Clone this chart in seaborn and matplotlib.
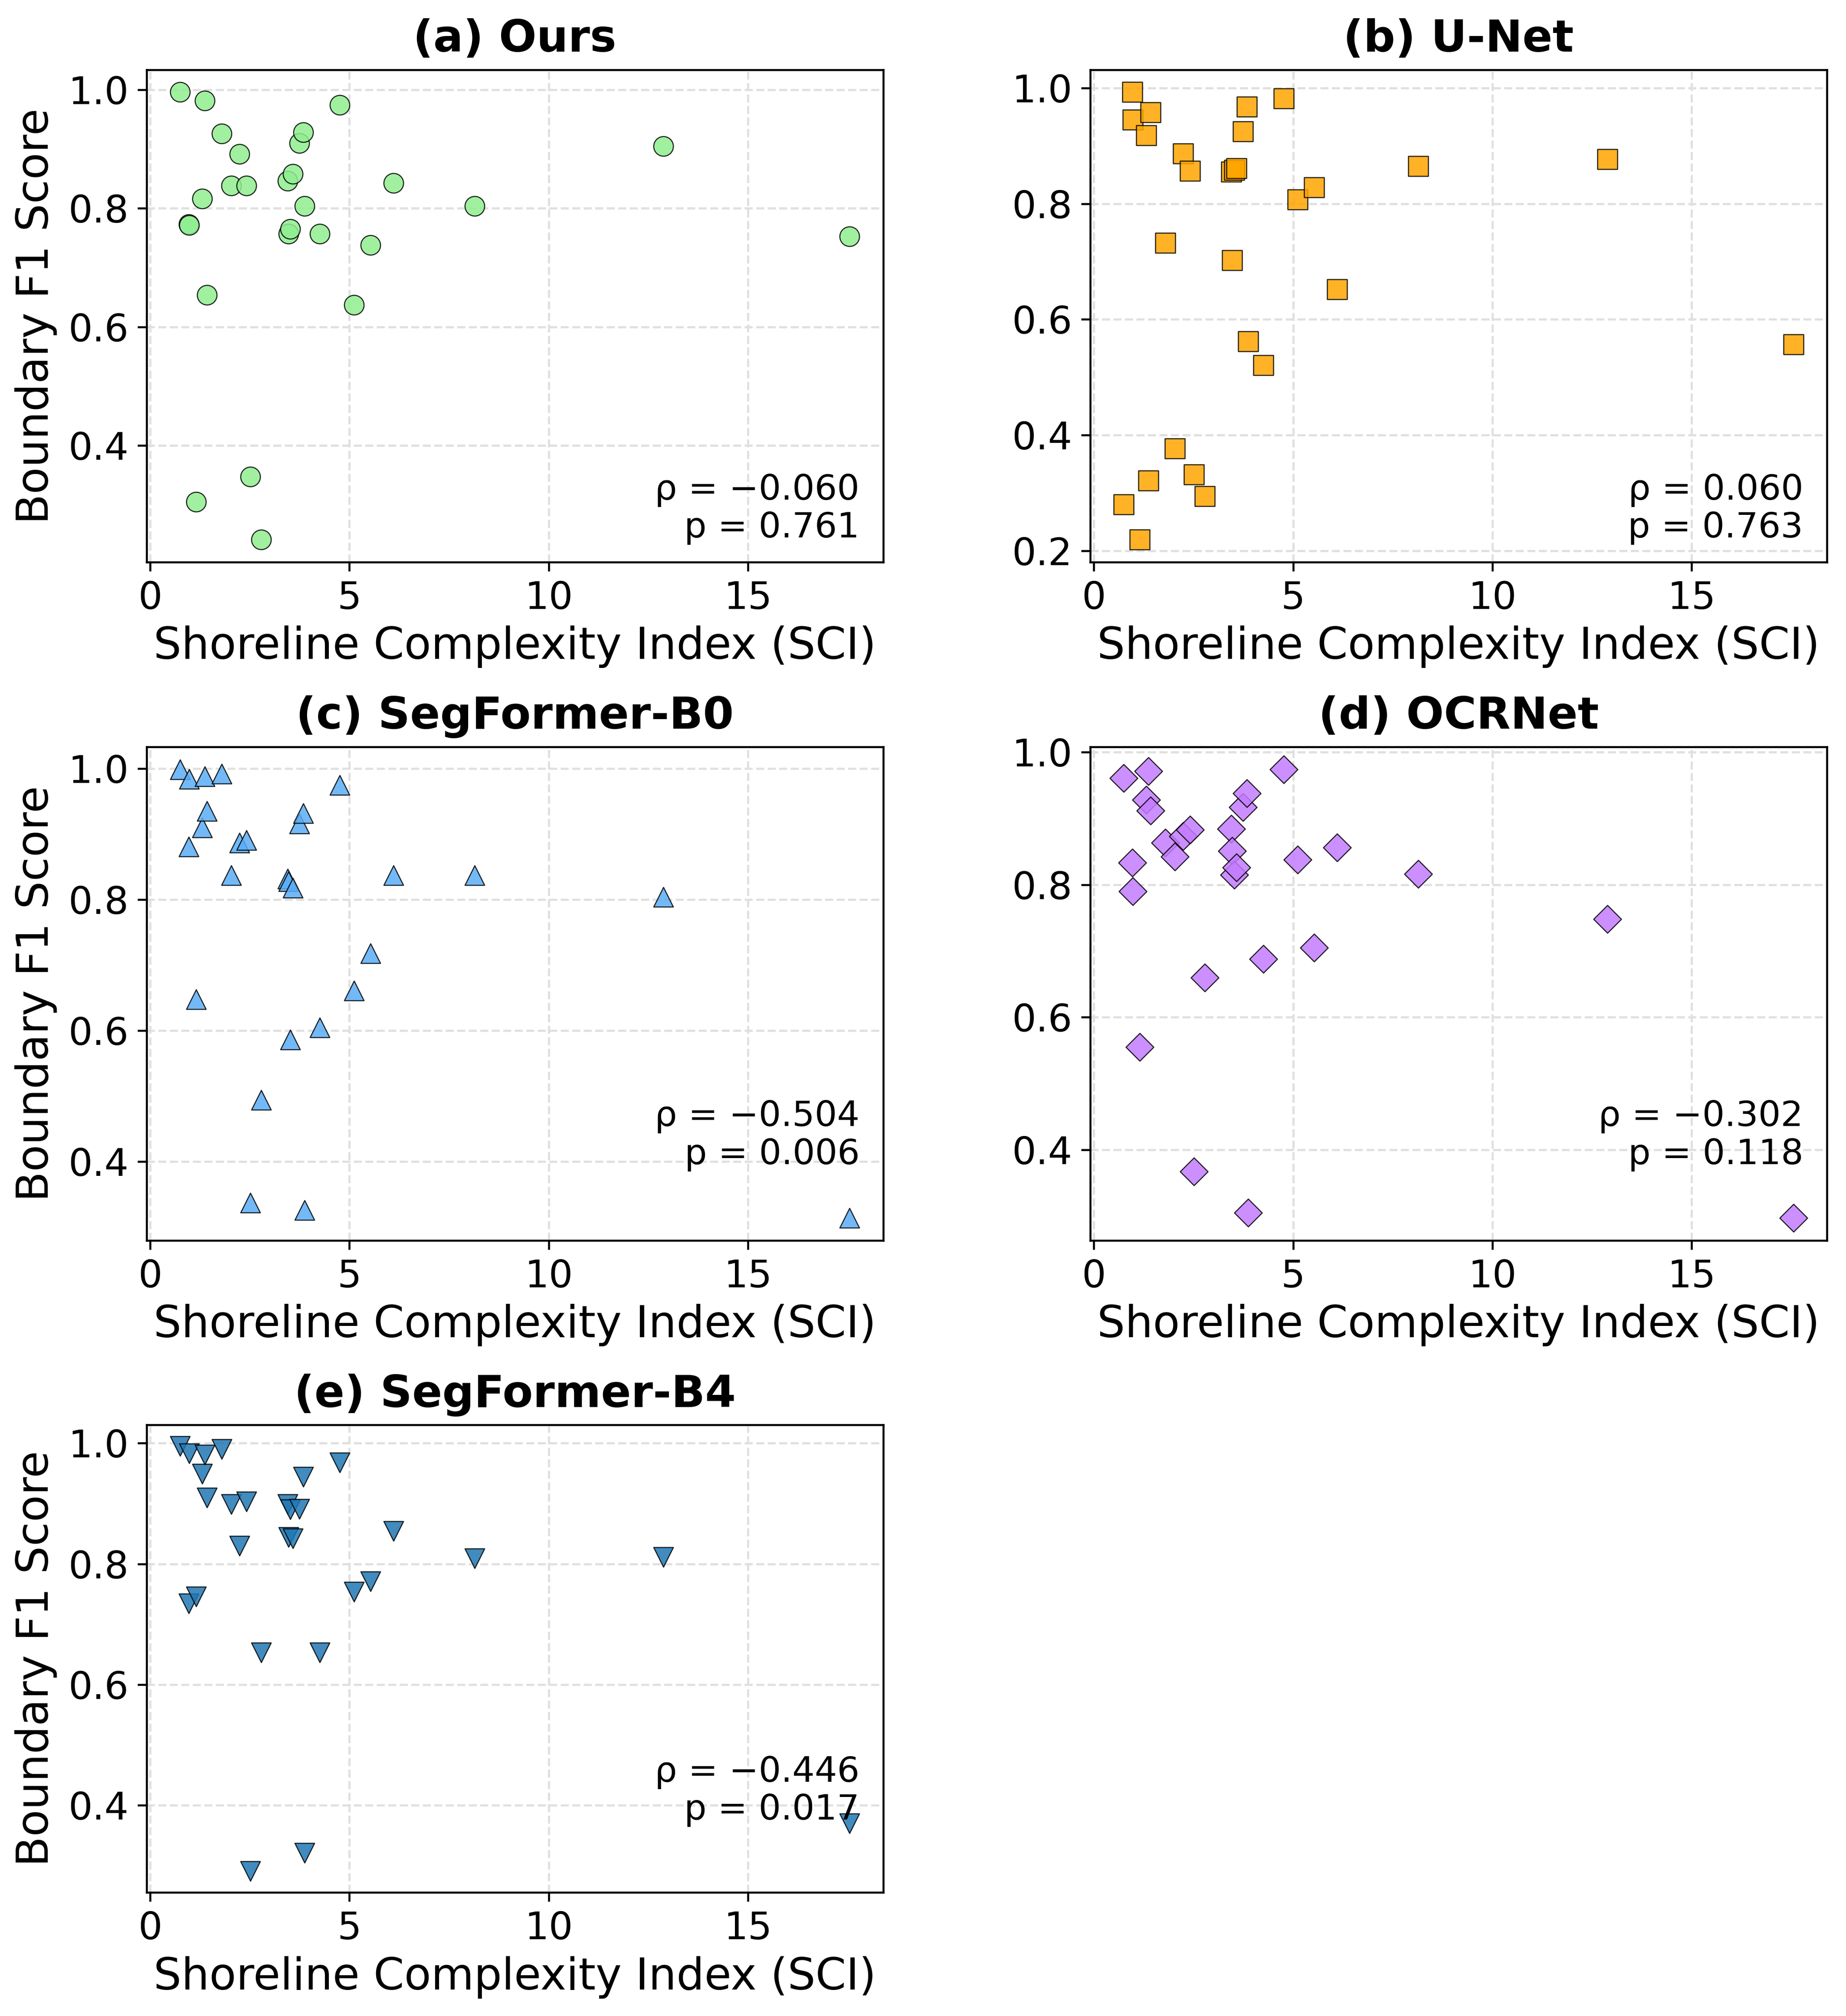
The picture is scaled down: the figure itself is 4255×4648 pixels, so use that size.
import numpy as np
import pandas as pd
import matplotlib
matplotlib.use("Agg")
import matplotlib.pyplot as plt
import seaborn as sns

# Shoreline complexity index of each test scene (shared by all models)
sci = [0.75, 0.97, 0.98, 1.15, 1.31, 1.37, 1.42, 1.79, 2.03, 2.24, 2.41, 2.51, 2.78, 3.45,
       3.47, 3.52, 3.58, 3.74, 3.84, 3.87, 4.25, 4.76, 5.11, 5.53, 6.10, 8.14, 12.88, 17.55]

# Boundary F1 per scene, same order as sci
f1_ours = [0.996, 0.773, 0.772, 0.305, 0.816, 0.982, 0.654, 0.926, 0.838, 0.892, 0.838, 0.347, 0.241, 0.846,
           0.757, 0.765, 0.858, 0.910, 0.928, 0.804, 0.757, 0.974, 0.637, 0.738, 0.843, 0.804, 0.905, 0.753]
f1_unet = [0.280, 0.993, 0.945, 0.219, 0.918, 0.321, 0.958, 0.732, 0.377, 0.887, 0.857, 0.332, 0.294, 0.855,
           0.702, 0.858, 0.861, 0.925, 0.968, 0.562, 0.521, 0.982, 0.807, 0.828, 0.652, 0.865, 0.877, 0.557]
f1_b0 = [0.999, 0.881, 0.984, 0.648, 0.910, 0.988, 0.935, 0.992, 0.837, 0.887, 0.891, 0.337, 0.494, 0.832,
         0.828, 0.586, 0.818, 0.916, 0.932, 0.326, 0.605, 0.975, 0.661, 0.718, 0.837, 0.837, 0.804, 0.314]
f1_ocr = [0.961, 0.833, 0.790, 0.555, 0.928, 0.971, 0.912, 0.863, 0.842, 0.873, 0.883, 0.367, 0.660, 0.884,
          0.851, 0.815, 0.826, 0.917, 0.938, 0.305, 0.688, 0.974, 0.838, 0.705, 0.856, 0.816, 0.748, 0.297]
f1_b4 = [0.995, 0.734, 0.983, 0.746, 0.949, 0.981, 0.910, 0.990, 0.899, 0.830, 0.903, 0.291, 0.653, 0.899,
         0.844, 0.890, 0.842, 0.891, 0.944, 0.321, 0.653, 0.968, 0.754, 0.771, 0.854, 0.809, 0.811, 0.370]

models = ["Ours", "U-Net", "SegFormer-B0", "OCRNet", "SegFormer-B4"]
panel_tags = ["(a)", "(b)", "(c)", "(d)", "(e)"]
spearman_rho = [-0.060, 0.060, -0.504, -0.302, -0.446]
spearman_p = [0.761, 0.763, 0.006, 0.118, 0.017]

f1_all = [f1_ours, f1_unet, f1_b0, f1_ocr, f1_b4]
colors = ["#90EE90", "#FFA500", "#5BADF6", "#C37BFF", "#1F77B4"]
markers = ["o", "s", "^", "D", "v"]

sns.set_theme(style="ticks")
plt.rcParams["font.family"] = ["DejaVu Sans"]
plt.rcParams["text.color"] = "black"
plt.rcParams["axes.labelcolor"] = "black"
plt.rcParams["xtick.color"] = "black"
plt.rcParams["ytick.color"] = "black"

W, H = 4255, 4648
fig = plt.figure(figsize=(W / 300, H / 300), dpi=300)

# axes boxes [left, bottom, width, height] in figure fractions
boxes = [
    [0.0794, 0.7212, 0.3990, 0.2442],
    [0.5906, 0.7212, 0.3990, 0.2442],
    [0.0794, 0.3847, 0.3990, 0.2448],
    [0.5906, 0.3847, 0.3990, 0.2448],
    [0.0794, 0.0613, 0.3990, 0.2319],
]
text_y = [0.035, 0.035, 0.14, 0.14, 0.14]

for i, name in enumerate(models):
    ax = fig.add_axes(boxes[i])
    df = pd.DataFrame({"SCI": sci, "F1": f1_all[i]})
    sns.scatterplot(data=df, x="SCI", y="F1", ax=ax, color=colors[i], marker=markers[i],
                    s=118, alpha=0.85, edgecolor="black", linewidth=0.6, zorder=3)

    ax.set_axisbelow(True)
    ax.grid(True, linestyle="--", color="#e0e0e0", linewidth=1.2)
    for sp in ax.spines.values():
        sp.set_linewidth(1.1)
        sp.set_color("black")
    ax.tick_params(axis="both", labelsize=21, length=5, width=1.1, pad=5, color="black")
    ax.set_xticks([0, 5, 10, 15])

    ax.set_title(f"{panel_tags[i]} {name}", fontsize=24.5, fontweight="bold", pad=10)
    ax.set_xlabel("Shoreline Complexity Index (SCI)", fontsize=24.3, labelpad=5)
    if i % 2 == 0:
        ax.set_ylabel("Boundary F1 Score", fontsize=24.3, labelpad=6)
    else:
        ax.set_ylabel("")

    label = f"ρ = {spearman_rho[i]:.3f}\np = {spearman_p[i]:.3f}".replace("-", "\u2212")
    ax.text(0.968, text_y[i], label, transform=ax.transAxes, ha="right", va="bottom",
            fontsize=19.5, linespacing=1.15)

fig.savefig("out.png", dpi=300)
plt.close(fig)
